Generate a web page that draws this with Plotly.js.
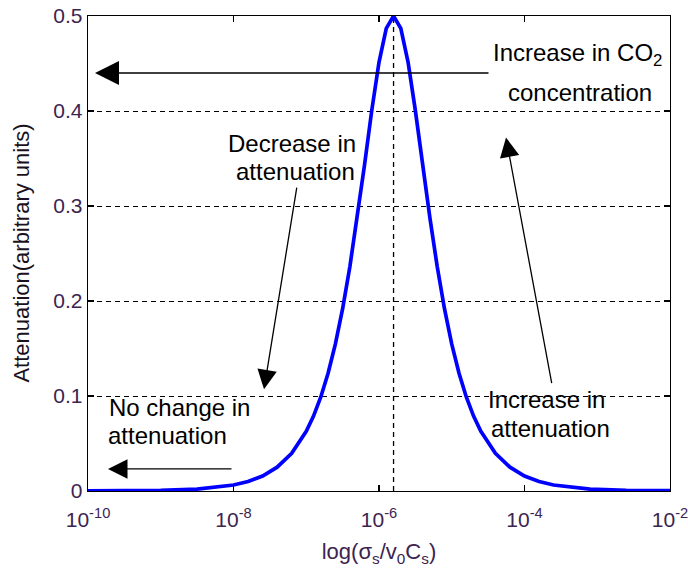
<!DOCTYPE html>
<html>
<head>
<meta charset="utf-8">
<script src="https://cdn.plot.ly/plotly-3.0.1.min.js"></script>
<style>
html,body{margin:0;padding:0;background:#fff;}
#chart{width:688px;height:571px;}
</style>
</head>
<body>
<div id="chart"></div>
<script>
// exponent of x (log10 of sigma_s / v0 C_s)
const logX = [-10,-9.5,-9,-8.5,-8,-7.8,-7.6,-7.4,-7.2,-7.0,-6.9,-6.8,-6.7,-6.6,-6.5,-6.4,-6.3,-6.2,-6.1,-6.0,-5.9,-5.8,
              -5.7,-5.6,-5.5,-5.4,-5.3,-5.2,-5.1,-5.0,-4.9,-4.8,-4.7,-4.6,-4.4,-4.2,-4.0,-3.8,-3.6,-3.1,-2.6,-2.0];
// attenuation (arbitrary units)
const atten = [0.0001,0.0002,0.0006,0.002,0.0063,0.0100,0.0158,0.0251,0.0397,0.0628,0.0789,0.0990,0.1239,0.1546,0.1919,0.2363,0.2875,0.3427,0.4004,0.4513,0.4870,0.5,
               0.4870,0.4513,0.4004,0.3427,0.2875,0.2363,0.1919,0.1546,0.1239,0.0990,0.0789,0.0628,0.0397,0.0251,0.0158,0.0100,0.0063,0.002,0.0006,0.0003];
const xTickVals = [1e-10,1e-8,1e-6,1e-4,1e-2];
const xTickText = ['10<sup>-10</sup>','10<sup>-8</sup>','10<sup>-6</sup>','10<sup>-4</sup>','10<sup>-2</sup>'];
const yTickVals = [0,0.1,0.2,0.3,0.4,0.5];
const yTickText = ['0','0.1','0.2','0.3','0.4','0.5'];

const xVals = logX.map(v => Math.pow(10, v));
let peakIdx = 0;
atten.forEach((v,i)=>{ if (v > atten[peakIdx]) peakIdx = i; });
const peakX = xVals[peakIdx];
const peakY = atten[peakIdx];

const FONT = 'Liberation Sans, Arial, sans-serif';
const TICKCOL = '#3d2450';

const traces = [
  {x:[peakX, peakX], y:[0, peakY], mode:'lines', line:{color:'#000', width:1.3, dash:'5px,4px'}, hoverinfo:'skip', showlegend:false},
  {x:xVals, y:atten, mode:'lines', line:{color:'#0000ff', width:3.7}, showlegend:false}
];

function txt(text, x, y, xanchor){
  return {text:text, x:x, y:y, xref:'x', yref:'y', showarrow:false, xanchor:xanchor||'center', yanchor:'middle',
          font:{family:FONT, size:24, color:'#000'}};
}
function arr(x, y, ax, ay, w){
  return {text:'', x:x, y:y, ax:ax, ay:ay, xref:'x', yref:'y', axref:'x', ayref:'y', showarrow:true,
          arrowhead:2, arrowsize:3.0, arrowwidth:w||1.3, arrowcolor:'#000', standoff:0, startstandoff:0};
}

const annotations = [
  arr(-9.904, 0.440, -4.474, 0.440, 1.6),
  arr(-7.581, 0.107, -7.127, 0.321),
  arr(-4.254, 0.372, -3.622, 0.112),
  arr(-9.725, 0.0232, -8.007, 0.0232),
  txt('Increase in CO<sub>2</sub>', -3.278, 0.459),
  txt('concentration', -3.237, 0.419),
  txt('Decrease in', -7.196, 0.366),
  txt('attenuation', -7.141, 0.336),
  txt('Increase in', -3.691, 0.0958),
  txt('attenuation', -3.636, 0.0653),
  txt('No change in', -9.739, 0.0874, 'left'),
  txt('attenuation', -9.753, 0.0589, 'left'),
  {text:'Attenuation(arbitrary units)', textangle:-90, xref:'paper', yref:'paper', x:-0.115, y:0.5,
   xanchor:'center', yanchor:'middle', showarrow:false, font:{family:FONT, size:22, color:'#1a1020'}}
];

const layout = {
  width:688, height:571,
  margin:{l:88, r:18, t:16, b:80, pad:0},
  paper_bgcolor:'#fff', plot_bgcolor:'#fff',
  showlegend:false,
  font:{family:FONT, color:'#000'},
  xaxis:{
    type:'log', range:[-10.0001,-1.9999], tickvals:xTickVals, ticktext:xTickText,
    showgrid:false, zeroline:false,
    showline:true, linecolor:'#000', linewidth:1.3, mirror:'ticks',
    ticks:'inside', ticklen:6, tickwidth:1.2, tickcolor:'#000',
    ticklabelstandoff:9, ticklabeloverflow:'allow',
    tickfont:{family:FONT, size:21, color:TICKCOL},
    title:{text:'log(σ<sub>s</sub>/v<sub>0</sub>C<sub>s</sub>)', font:{family:FONT, size:22, color:TICKCOL}, standoff:14}
  },
  yaxis:{
    range:[0,0.5], tickvals:yTickVals, ticktext:yTickText,
    showgrid:true, gridcolor:'#000', gridwidth:1, griddash:'5px,4px',
    zeroline:false,
    showline:true, linecolor:'#000', linewidth:1.3, mirror:'ticks',
    ticks:'inside', ticklen:6, tickwidth:1.2, tickcolor:'#000',
    tickfont:{family:FONT, size:21, color:TICKCOL}
  },
  annotations:annotations
};

Plotly.newPlot('chart', traces, layout, {displayModeBar:false, staticPlot:true});
</script>
</body>
</html>
